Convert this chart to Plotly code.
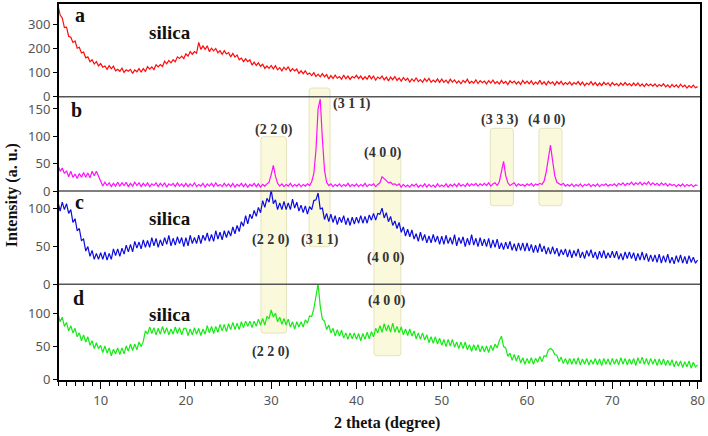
import plotly.graph_objects as go
from plotly.subplots import make_subplots

# ---------------- data ----------------
TT_START = 5.0
TT_STEP = 0.25
N_PTS = 301
two_theta = [TT_START + TT_STEP * i for i in range(N_PTS)]

a_silica = [
382, 340, 328, 288, 290, 252, 248, 226, 232, 202, 206, 182, 186, 162, 166, 146, 154, 136, 146, 128,
138, 123, 128, 114, 129, 116, 127, 108, 114, 106, 119, 101, 112, 106, 114, 97, 112, 104, 117, 103,
117, 106, 125, 115, 124, 113, 133, 124, 134, 126, 148, 137, 151, 141, 154, 146, 166, 159, 169, 159,
179, 169, 188, 177, 188, 181, 226, 197, 212, 197, 212, 188, 202, 191, 201, 183, 192, 177, 192, 178,
184, 166, 180, 165, 174, 154, 161, 146, 158, 146, 154, 132, 144, 130, 141, 127, 135, 118, 128, 118,
130, 116, 129, 112, 121, 108, 123, 112, 125, 106, 117, 107, 115, 97, 108, 96, 108, 93, 99, 88,
100, 84, 94, 83, 96, 83, 92, 74, 88, 76, 90, 77, 84, 73, 90, 75, 86, 72, 84, 78,
89, 76, 86, 72, 83, 73, 89, 74, 86, 69, 82, 75, 86, 70, 82, 66, 82, 71, 84, 68,
78, 65, 80, 68, 77, 61, 74, 64, 79, 63, 71, 60, 75, 63, 76, 60, 69, 61, 74, 60,
73, 60, 69, 57, 73, 61, 70, 57, 66, 54, 68, 59, 73, 56, 64, 57, 70, 55, 67, 58,
65, 53, 67, 57, 69, 55, 63, 53, 68, 56, 64, 50, 66, 57, 65, 53, 63, 51, 68, 55,
65, 54, 66, 51, 61, 53, 68, 52, 62, 49, 64, 54, 62, 48, 63, 53, 64, 50, 59, 51,
61, 49, 59, 52, 63, 49, 61, 46, 57, 50, 63, 49, 59, 46, 57, 47, 60, 50, 58, 45,
59, 48, 55, 45, 57, 47, 59, 48, 55, 45, 57, 46, 57, 44, 53, 42, 54, 46, 53, 44,
53, 42, 51, 44, 54, 41, 49, 38, 51, 41, 49, 38, 52, 41, 48, 36, 46, 38, 48, 37,
42]

b_sample = [
47, 36, 42, 32, 37, 26, 36, 25, 31, 23, 32, 25, 34, 25, 33, 24, 36, 28, 36, 27,
15, 9, 16, 10, 15, 8, 14, 9, 16, 9, 15, 10, 16, 8, 14, 9, 16, 10, 15, 8,
14, 9, 15, 8, 13, 10, 15, 8, 14, 9, 15, 7, 13, 10, 14, 8, 15, 9, 13, 8,
14, 8, 13, 9, 15, 8, 12, 9, 14, 7, 13, 9, 14, 8, 15, 9, 12, 8, 14, 9,
13, 8, 14, 7, 12, 9, 14, 8, 13, 7, 12, 9, 14, 8, 13, 7, 12, 9, 13, 16,
30, 47, 27, 14, 9, 13, 8, 12, 9, 14, 8, 12, 9, 13, 8, 12, 9, 13, 10, 17,
32, 75, 150, 168, 96, 38, 16, 10, 13, 8, 12, 9, 13, 8, 12, 9, 14, 8, 12, 9,
13, 8, 12, 9, 14, 8, 12, 10, 13, 8, 12, 15, 26, 23, 19, 15, 16, 12, 13, 10,
13, 7, 12, 8, 11, 7, 12, 9, 13, 7, 11, 8, 13, 7, 12, 8, 11, 7, 13, 8,
11, 8, 13, 7, 12, 9, 13, 8, 14, 9, 12, 8, 14, 9, 13, 10, 14, 9, 13, 10,
14, 10, 15, 9, 13, 15, 10, 17, 36, 54, 28, 15, 10, 13, 15, 9, 13, 10, 12, 9,
13, 10, 14, 9, 13, 11, 14, 12, 18, 35, 62, 84, 55, 28, 16, 13, 11, 14, 9, 12,
9, 13, 8, 12, 9, 13, 8, 12, 10, 13, 8, 12, 9, 13, 8, 12, 10, 13, 9, 12,
10, 13, 9, 14, 11, 15, 10, 14, 12, 16, 11, 15, 12, 16, 11, 15, 12, 17, 11, 15,
11, 14, 10, 15, 11, 14, 9, 13, 10, 12, 8, 12, 9, 13, 8, 12, 9, 12, 8, 11,
10]

c_sample = [
109, 97, 109, 99, 107, 94, 99, 82, 87, 71, 74, 58, 60, 44, 50, 37, 45, 33, 41, 33,
42, 33, 43, 32, 41, 33, 47, 38, 47, 37, 48, 40, 52, 43, 53, 43, 57, 48, 56, 47,
59, 49, 58, 49, 62, 51, 61, 49, 59, 51, 62, 53, 65, 51, 61, 52, 63, 54, 62, 50,
62, 51, 65, 54, 62, 54, 65, 54, 65, 58, 68, 57, 66, 57, 71, 60, 69, 59, 71, 62,
71, 64, 76, 67, 78, 70, 83, 77, 91, 80, 93, 87, 98, 90, 102, 95, 111, 102, 114, 109,
125, 107, 112, 99, 108, 99, 110, 99, 108, 99, 113, 101, 109, 97, 105, 95, 104, 93, 103, 99,
111, 112, 121, 100, 101, 86, 94, 83, 93, 82, 91, 79, 89, 82, 91, 79, 88, 78, 89, 80,
89, 81, 91, 81, 90, 81, 92, 85, 94, 85, 94, 93, 101, 88, 95, 83, 90, 78, 84, 74,
82, 69, 76, 64, 73, 63, 72, 60, 67, 57, 69, 58, 66, 55, 64, 55, 66, 56, 64, 53,
64, 53, 65, 54, 62, 53, 66, 51, 62, 54, 63, 50, 61, 52, 66, 52, 61, 50, 62, 51,
60, 50, 61, 48, 59, 49, 60, 47, 55, 46, 56, 47, 57, 45, 54, 44, 55, 45, 55, 44,
55, 44, 53, 42, 52, 42, 54, 43, 51, 40, 49, 40, 50, 40, 48, 37, 46, 39, 47, 36,
46, 35, 45, 37, 47, 35, 43, 34, 45, 37, 46, 35, 43, 33, 44, 35, 45, 34, 42, 35,
44, 35, 44, 33, 41, 32, 43, 34, 43, 34, 42, 31, 41, 32, 43, 32, 41, 30, 39, 30,
39, 29, 40, 28, 38, 29, 40, 28, 36, 27, 38, 29, 39, 28, 37, 27, 38, 29, 36, 28,
32]

d_sample = [
100, 88, 95, 81, 87, 74, 82, 71, 78, 65, 71, 59, 68, 57, 65, 52, 59, 47, 56, 47,
52, 41, 51, 40, 48, 36, 46, 39, 48, 38, 48, 39, 51, 43, 54, 44, 54, 45, 57, 50,
58, 74, 69, 80, 70, 79, 68, 78, 69, 81, 70, 79, 68, 77, 69, 80, 70, 79, 68, 78,
78, 67, 77, 68, 79, 69, 78, 67, 77, 69, 82, 71, 81, 70, 81, 72, 84, 74, 84, 73,
85, 76, 87, 76, 86, 76, 88, 79, 89, 81, 89, 79, 89, 81, 92, 83, 93, 83, 96, 93,
106, 95, 101, 88, 95, 84, 93, 83, 92, 80, 88, 77, 88, 80, 88, 80, 91, 86, 97, 96,
108, 126, 146, 112, 92, 89, 76, 83, 71, 78, 66, 76, 66, 75, 63, 71, 61, 71, 62, 71,
61, 70, 59, 70, 61, 72, 62, 73, 65, 78, 71, 82, 72, 85, 74, 83, 72, 86, 72, 81,
71, 80, 68, 77, 67, 77, 66, 74, 62, 71, 61, 71, 60, 68, 56, 65, 55, 65, 54, 63,
52, 61, 50, 61, 51, 61, 49, 57, 47, 57, 47, 57, 45, 53, 43, 53, 44, 53, 42, 51,
42, 51, 41, 52, 44, 54, 48, 59, 66, 50, 48, 35, 40, 29, 38, 28, 37, 25, 33, 23,
32, 24, 33, 23, 32, 26, 35, 27, 36, 35, 45, 47, 45, 38, 37, 27, 34, 24, 32, 23,
32, 23, 32, 23, 33, 22, 31, 23, 32, 22, 30, 23, 32, 22, 31, 21, 32, 23, 31, 22,
32, 23, 31, 22, 33, 23, 32, 22, 31, 23, 32, 21, 33, 24, 34, 23, 32, 22, 32, 23,
31, 21, 31, 22, 31, 21, 29, 21, 30, 19, 28, 20, 28, 18, 27, 19, 28, 17, 26, 19,
22]

panel_letters = ["a", "b", "c", "d"]
x_ticks = [10, 20, 30, 40, 50, 60, 70, 80]
y_ticks = [[0, 100, 200, 300], [0, 50, 100, 150], [0, 50, 100], [0, 50, 100]]
y_ranges = [[0, 390.4], [0, 172.4], [0, 123.7], [-2.6, 145.3]]
line_colors = ["#ff0a0a", "#ff10ff", "#0c0ce0", "#14ea14"]

# highlight boxes: (2theta start, 2theta end)
box_x = [(28.8, 31.8), (34.45, 36.9), (42.05, 45.2), (55.7, 58.4), (61.4, 64.1)]

# ---------------- layout helpers ----------------
W, H = 708, 436
PL, PR, PT, PB = 58, 703, 3, 381


def px(x):
    return (x - PL) / (PR - PL)


def py(y):
    return (PB - y) / (PB - PT)


box_y_px = [(136.7, 333), (88, 246.7), (155.7, 355.7), (128.3, 205.7), (128.3, 205.7)]

dividers = [96.7, 191, 284.3]
domains = [[py(96.7), 1.0], [py(191), py(96.7)], [py(284.3), py(191)], [0.0, py(284.3)]]

fig = make_subplots(rows=4, cols=1, shared_xaxes=True, vertical_spacing=0)

series = [a_silica, b_sample, c_sample, d_sample]
for i, s in enumerate(series):
    fig.add_trace(go.Scatter(x=two_theta[:len(s)], y=s, mode="lines",
                             line=dict(color=line_colors[i], width=1.2),
                             showlegend=False, hoverinfo="skip"), row=i + 1, col=1)

tick_font = dict(family="Noto Sans", size=13, color="#555555")
serif = "Liberation Serif"

for i in range(4):
    ya = "yaxis" if i == 0 else f"yaxis{i+1}"
    xa = "xaxis" if i == 0 else f"xaxis{i+1}"
    fig.layout[ya].update(domain=domains[i], range=y_ranges[i], tickvals=y_ticks[i],
                          ticks="outside", ticklen=4, tickcolor="#000", tickwidth=1,
                          showgrid=False, zeroline=False, showline=False,
                          tickfont=tick_font, fixedrange=True)
    if i < 3:
        fig.layout[xa].update(range=[5, 80.4], showticklabels=False, ticks="",
                              showgrid=False, zeroline=False, showline=False)
fig.layout["xaxis4"].update(range=[5, 80.4], tickvals=x_ticks, ticks="outside",
                            ticklen=7, tickwidth=1.2, tickcolor="#000",
                            minor=dict(dtick=1, tick0=5, ticks="outside", ticklen=3.5,
                                       tickcolor="#000", tickwidth=1),
                            showgrid=False, zeroline=False, showline=False,
                            tickfont=tick_font)

shapes = []


def rrect(x0, x1, y0, y1, rx=0.3, ry=0.008):
    return (f"M {x0+rx},{y0} L {x1-rx},{y0} Q {x1},{y0} {x1},{y0+ry} "
            f"L {x1},{y1-ry} Q {x1},{y1} {x1-rx},{y1} L {x0+rx},{y1} "
            f"Q {x0},{y1} {x0},{y1-ry} L {x0},{y0+ry} Q {x0},{y0} {x0+rx},{y0} Z")


for (x0, x1), (yt, yb) in zip(box_x, box_y_px):
    shapes.append(dict(type="path", xref="x4", yref="paper",
                       path=rrect(x0, x1, py(yb), py(yt)),
                       fillcolor="rgba(250,248,214,0.85)",
                       line=dict(color="rgba(228,226,190,1)", width=1), layer="below"))

for yd in dividers:
    shapes.append(dict(type="line", xref="paper", yref="paper", x0=0, x1=1,
                       y0=py(yd), y1=py(yd), line=dict(color="#555555", width=1.6)))
shapes.append(dict(type="rect", xref="paper", yref="paper", x0=0, x1=1, y0=0, y1=1,
                   line=dict(color="#000000", width=2)))

ann = []


def txt(t, x, y, size, color="#111111", bold=True):
    ann.append(dict(text=f"<b>{t}</b>" if bold else t, x=px(x), y=py(y), xref="paper", yref="paper",
                    showarrow=False, xanchor="center", yanchor="middle",
                    font=dict(family=serif, size=size, color=color)))


letter_pos = [(80, 15), (77, 110), (80, 202), (79, 298)]
for L, (x, y) in zip(panel_letters, letter_pos):
    txt(L, x, y, 20)

for (x, y) in [(170, 32), (170, 218), (170, 314)]:
    txt("silica", x, y, 19)

peak_labels = [("(2 2 0)", 275, 130), ("(3 1 1)", 353, 104), ("(4 0 0)", 384, 153),
               ("(3 3 3)", 501, 120), ("(4 0 0)", 549, 120),
               ("(2 2 0)", 272, 240), ("(3 1 1)", 321, 240), ("(4 0 0)", 387, 258),
               ("(4 0 0)", 388, 301), ("(2 2 0)", 272, 352)]
for t, x, y in peak_labels:
    txt(t, x, y, 14, color="#333333")

# axis titles
ann.append(dict(text="<b>2 theta (degree)</b>", x=px(388), y=py(423), xref="paper", yref="paper",
                showarrow=False, xanchor="center", yanchor="middle",
                font=dict(family=serif, size=16, color="#111")))
ann.append(dict(text="<b>Intensity (a. u.)</b>", x=px(12), y=py(195), xref="paper", yref="paper",
                showarrow=False, xanchor="center", yanchor="middle", textangle=-90,
                font=dict(family=serif, size=16, color="#111")))

fig.update_layout(width=W, height=H, margin=dict(l=PL, r=W - PR, t=PT, b=H - PB),
                  paper_bgcolor="white", plot_bgcolor="rgba(0,0,0,0)",
                  shapes=shapes, annotations=ann, showlegend=False)

fig.write_html("out.html", config={"displayModeBar": False},
               post_script="document.body.style.margin='0';document.body.style.overflow='hidden';")
